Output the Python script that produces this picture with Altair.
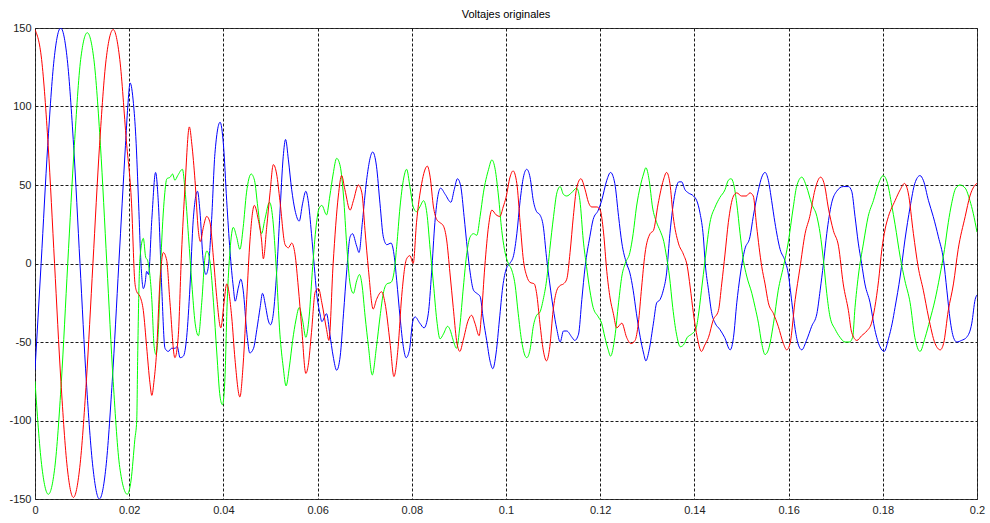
import altair as alt
import pandas as pd

# time in milliseconds, voltage values
red_t = [0, 1.4, 2.8, 4.15, 5.5, 6.85, 8.15, 9.5, 10.9, 12.3, 13.7, 15.1, 16.6, 18.0, 19.4, 20.5, 21.2, 21.6, 22.3, 23.0,
         23.7, 24.4, 24.8, 25.3, 25.8, 26.5, 27.25, 27.96, 28.66, 29.7, 30.4, 31.1, 31.85, 32.77, 33.3, 33.97, 34.68, 35.1, 35.74, 36.45,
         37.16, 37.87, 38.57, 39.45, 40.1, 40.7, 41.76, 42.46, 43.5, 44.2, 44.94, 45.65, 46.57, 47.4, 48.1, 48.48, 49.19, 49.9, 50.6, 51.3,
         52.0, 53.1, 53.8, 54.5, 55.2, 55.9, 56.6, 57.5, 58.0, 58.7, 59.5, 60.2, 60.9, 61.9, 62.4, 63.3, 64.4, 65.1, 65.8, 66.9,
         67.6, 68.65, 69.4, 70.07, 70.8, 71.8, 72.5, 73.6, 74.3, 75.4, 76.2, 77.1, 77.85, 78.9, 79.6, 80.3, 81.0, 82.1, 83.3, 83.9,
         84.6, 85.3, 86.0, 86.7, 87.4, 88.1, 88.8, 89.5, 90.2, 90.9, 92.0, 92.7, 93.4, 94.3, 94.8, 95.5, 96.3, 97.0, 97.9, 98.7,
         99.4, 100.0, 100.85, 101.5, 102.3, 103.0, 103.7, 104.4, 105.1, 106.0, 106.5, 107.2, 107.9, 108.6, 109.3, 110.0, 110.8, 111.5, 112.2, 112.9,
         113.6, 114.3, 115.0, 115.9, 116.8, 117.5, 118.2, 119.3, 120.0, 120.7, 121.4, 122.1, 122.8, 123.5, 124.6, 125.6, 126.5, 127.4, 128.1, 128.8,
         129.5, 130.6, 131.3, 132.3, 133.4, 134.1, 134.8, 135.5, 136.6, 137.65, 138.5, 139.1, 139.8, 140.6, 141.5, 142.2, 143.0, 144.0, 145.1, 145.8,
         146.5, 147.2, 148.3, 149.0, 150.0, 151.0, 151.8, 152.5, 153.2, 154.3, 155.0, 155.7, 156.8, 157.8, 158.9, 159.6, 160.3, 161.4, 162.4, 163.5,
         164.5, 165.6, 166.8, 167.7, 168.4, 169.5, 170.6, 171.6, 172.7, 173.4, 174.5, 175.5, 176.6, 177.6, 178.3, 179.1, 179.8, 180.5, 181.2, 182.6,
         183.7, 184.6, 185.4, 186.5, 187.5, 188.6, 189.7, 191.1, 192.2, 192.9, 193.9, 195.0, 196.0, 197.5, 198.5, 199.6, 200.0]
red_v = [149, 130, 75, 0, -75, -130, -149, -130, -75, 0, 75, 130, 149, 130, 78, 38, -12, -18, -21, -30,
         -53, -76, -84, -74, -57, -13, 7, 2, -25, -60, -47, 6, 49, 87, 76, 53, 21, 14, 23, 30,
         26, 4, -21, -41, -26, -13, -34, -61, -85, -64, -23, 15, 37, 28, 15, 3, 23, 45, 63, 57,
         40, 12, 10, 13, 6, -15, -40, -70, -65, -44, -18, -16, -25, -42, -49, 0, 43, 56, 47, 34,
         40, 50, 45, 21, -4, -29, -23, -18, -25, -51, -72, -53, -21, 3, 5, 0, 26, 51, 62, 55,
         36, 28, 26, 24, 15, -6, -28, -49, -56, -49, -36, -33, -38, -46, -32, -2, 24, 34, 31, 30,
         36, 42, 55, 59, 51, 26, 2, -8, -12, -13, -19, -38, -55, -62, -53, -30, -17, -14, -13, -10,
         7, 30, 48, 54, 47, 39, 36, 36, 34, 20, -5, -22, -32, -41, -38, -47, -51, -49, -38, -15,
         6, 19, 21, 38, 53, 58, 51, 30, 13, 6, -2, -15, -32, -47, -56, -52, -47, -36, -30, -13,
         6, 26, 43, 45, 43, 43, 45, 43, 24, -2, -13, -25, -32, -40, -51, -55, -51, -23, -3, 19,
         30, 47, 55, 49, 36, 21, 11, -13, -30, -44, -49, -46, -43, -38, -28, -11, 9, 22, 30, 40,
         47, 51, 45, 19, -2, -17, -34, -51, -55, -51, -30, -13, 9, 30, 43, 50, 51]

blue_t = [0, 1.3, 2.7, 4.05, 5.45, 6.85, 8.2, 9.55, 10.9, 12.3, 13.66, 15.05, 16.4, 17.8, 19.2, 19.7, 20.2, 20.9, 21.4, 22.0,
          22.5, 23.0, 23.4, 23.7, 24.1, 24.8, 25.6, 26.2, 26.9, 27.6, 28.3, 29.0, 29.7, 30.2, 30.8, 31.5, 32.2, 32.9, 33.6, 34.5,
          35.0, 35.7, 36.3, 36.8, 37.5, 38.2, 39.3, 40.0, 40.7, 41.4, 42.1, 42.5, 43.2, 43.7, 44.2, 45.0, 45.6, 46.4, 47.1, 47.8,
          48.3, 49.0, 49.5, 50.0, 50.6, 51.3, 52.0, 52.7, 53.2, 53.8, 54.5, 55.2, 56.1, 56.8, 57.5, 58.0, 58.7, 59.3, 59.8, 60.5,
          60.9, 61.9, 62.6, 63.3, 64.05, 64.8, 65.5, 66.2, 66.9, 67.4, 68.3, 68.8, 69.5, 70.4, 71.7, 72.5, 73.25, 73.95, 74.7, 75.6,
          76.3, 76.8, 77.5, 78.2, 78.8, 79.5, 80.2, 80.7, 81.7, 82.6, 83.5, 84.2, 84.9, 85.6, 86.1, 87.1, 88.3, 89.0, 89.7, 90.4,
          91.1, 91.8, 92.4, 93.1, 93.8, 94.5, 95.2, 95.9, 96.6, 97.2, 97.9, 98.6, 99.3, 100.1, 100.8, 101.6, 102.3, 103.0, 103.7, 104.4,
          105.1, 105.8, 106.5, 107.2, 107.9, 108.6, 109.3, 110.0, 110.8, 111.5, 112.2, 112.9, 114.0, 114.6, 115.4, 116.1, 116.8, 117.8, 118.5, 119.6,
          120.3, 121.4, 122.2, 123.1, 123.9, 124.6, 125.6, 126.3, 127.0, 127.7, 128.5, 129.2, 129.7, 130.4, 131.3, 132.0, 132.7, 133.4, 134.1, 134.8,
          135.9, 136.7, 137.3, 138.0, 138.7, 139.8, 140.5, 141.2, 141.9, 142.3, 143.0, 143.7, 144.4, 145.4, 146.4, 147.6, 148.3, 149.0, 149.7, 150.7,
          151.8, 152.5, 153.6, 154.3, 155.0, 155.7, 156.4, 157.1, 158.2, 159.2, 159.9, 160.7, 161.4, 162.1, 162.8, 163.8, 164.9, 166.0, 166.7, 167.4,
          168.1, 169.1, 170.2, 171.6, 172.7, 173.4, 174.1, 174.8, 175.5, 176.2, 177.3, 178.3, 179.4, 180.3, 181.2, 182.0, 182.6, 183.7, 184.7, 185.8,
          186.8, 187.9, 188.6, 189.7, 190.7, 191.8, 192.9, 193.6, 194.3, 195.0, 195.7, 196.7, 197.8, 198.9, 199.6, 200.0]
blue_v = [-68, 0, 75, 130, 150, 130, 75, 0, -75, -130, -150, -130, -75, 0, 75, 100, 115, 102, 81, 38,
          0, -16, -12, -5, -7, 28, 58, 38, -15, -54, -56, -54, -54, -53, -60, -59, -47, -15, 28, 46,
          34, 2, -7, -2, 28, 70, 90, 76, 40, 8, -15, -24, -15, -10, -17, -45, -57, -54, -42, -28,
          -19, -28, -36, -39, -32, -6, 32, 68, 79, 66, 47, 34, 27, 38, 46, 40, 19, -2, -19, -32,
          -37, -32, -45, -59, -68, -59, -32, -4, 17, 19, 11, 7, 26, 53, 71, 62, 38, 17, 12, 13,
          4, -11, -34, -53, -60, -55, -37, -34, -38, -41, -32, -6, 26, 44, 48, 44, 39, 47, 54, 49,
          30, 9, -6, -17, -19, -21, -36, -49, -62, -67, -57, -36, -15, -3, 0, 5, 19, 40, 55, 60,
          55, 40, 33, 31, 24, 4, -13, -28, -42, -50, -43, -43, -47, -49, -45, -23, -2, 17, 28, 34,
          40, 53, 58, 51, 30, 13, 0, -6, -17, -32, -47, -57, -62, -55, -38, -25, -23, -17, -6, 19,
          45, 52, 52, 47, 45, 43, 40, 32, 17, 0, -17, -32, -38, -42, -47, -55, -47, -25, -8, 9,
          17, 30, 47, 55, 58, 53, 40, 26, 9, 2, -6, -25, -42, -52, -55, -49, -40, -32, -17, 0,
          19, 38, 46, 49, 49, 46, 30, 13, 0, -13, -25, -42, -53, -56, -48, -38, -28, -8, 15, 36,
          51, 56, 53, 40, 30, 17, 2, -17, -36, -47, -50, -49, -47, -38, -23, -20]

green_t = [0, 1.4, 2.83, 4.2, 5.6, 6.95, 8.35, 9.7, 11.1, 12.5, 13.9, 15.25, 16.6, 18.0, 19.6, 20.4, 21.2, 21.6, 21.8, 22.0,
           22.3, 23.0, 23.5, 23.9, 24.8, 25.3, 25.7, 26.2, 26.75, 27.5, 28.0, 28.7, 29.2, 29.7, 30.3, 31.3, 31.85, 32.6, 33.3, 34.0,
           34.7, 35.4, 36.1, 36.5, 37.2, 37.9, 38.6, 39.3, 39.8, 40.3, 40.8, 41.4, 42.1, 42.8, 43.5, 44.2, 44.9, 45.9, 46.6, 47.3,
           48.1, 48.8, 49.8, 50.5, 51.2, 52.0, 52.7, 53.3, 54.0, 54.7, 55.4, 56.1, 56.8, 57.5, 58.2, 58.95, 59.7, 60.3, 60.9, 61.9,
           62.6, 63.3, 64.05, 64.8, 65.5, 66.2, 66.9, 67.6, 68.3, 68.9, 69.4, 70.1, 70.8, 71.6, 72.5, 73.25, 73.95, 74.7, 75.6, 76.3,
           76.8, 77.5, 78.2, 78.9, 79.6, 80.3, 81.0, 81.7, 82.5, 83.2, 83.9, 84.6, 85.3, 86.0, 86.7, 87.6, 88.1, 88.8, 89.5, 90.2,
           90.95, 91.7, 92.4, 93.1, 93.8, 94.5, 95.2, 96.3, 97.0, 97.7, 98.4, 99.1, 99.8, 100.5, 101.2, 101.9, 102.6, 103.3, 104.4, 105.1,
           105.8, 106.5, 107.2, 107.9, 108.6, 109.3, 110.1, 110.8, 111.5, 112.2, 112.9, 113.9, 115.0, 115.7, 116.4, 117.1, 117.8, 118.5, 119.6, 120.3,
           121.0, 121.7, 122.2, 123.1, 123.9, 124.6, 125.3, 126.3, 127.0, 127.7, 128.5, 129.2, 129.7, 130.4, 131.1, 132.0, 132.7, 133.5, 134.1, 134.7,
           135.4, 136.2, 137.0, 137.65, 138.5, 139.4, 140.3, 140.8, 141.5, 142.3, 143.3, 144.4, 145.4, 146.5, 147.2, 147.8, 148.3, 149.0, 149.7, 150.4,
           151.1, 152.2, 152.9, 153.6, 154.3, 155.0, 155.7, 156.8, 157.8, 158.9, 159.9, 161.0, 161.7, 162.8, 163.8, 164.9, 166.0, 166.7, 167.4, 168.1,
           168.8, 169.9, 170.9, 172.0, 172.9, 173.6, 174.1, 174.8, 175.9, 176.9, 178.0, 179.1, 180.1, 181.0, 181.9, 182.6, 183.7, 184.7, 185.8, 186.8,
           187.9, 189.0, 190.0, 191.1, 192.1, 193.1, 193.9, 194.6, 195.5, 196.4, 197.5, 198.5, 199.2, 200.0]
green_v = [-75, -128, -147, -130, -75, 0, 75, 130, 147, 130, 75, 0, -75, -130, -147, -138, -112, -100, -60, -25,
           4, 16, 4, 2, -23, -53, -58, -42, 4, 43, 54, 55, 57, 53, 56, 60, 47, 17, -13, -38,
           -46, -25, 4, 8, 0, -25, -57, -85, -90, -75, -25, 8, 23, 17, 9, 23, 45, 57, 53, 36,
           19, 28, 39, 28, -2, -45, -66, -78, -66, -49, -36, -28, -36, -47, -34, -2, 24, 35, 37, 31,
           43, 57, 67, 62, 43, 11, -13, -19, -11, -7, -13, -34, -53, -71, -53, -34, -19, -13, -12, -4,
           11, 36, 53, 60, 49, 36, 33, 36, 40, 32, 9, -13, -36, -48, -45, -40, -42, -49, -54, -40,
           -15, 7, 17, 19, 18, 30, 45, 60, 66, 60, 43, 21, 7, 0, -4, -13, -32, -49, -60, -55,
           -40, -33, -31, -23, -11, 9, 30, 45, 49, 44, 43, 45, 48, 40, 15, -2, -17, -28, -34, -38,
           -47, -55, -59, -47, -25, -8, 0, 7, 19, 36, 49, 57, 61, 53, 36, 26, 21, 14, 4, -8,
           -28, -45, -53, -52, -47, -45, -42, -34, -17, 3, 26, 36, 42, 47, 53, 54, 51, 38, 19, 2,
           -8, -19, -28, -38, -51, -58, -55, -38, -17, -2, 13, 36, 49, 55, 49, 38, 30, 19, 2, -19,
           -34, -42, -47, -50, -50, -47, -28, -8, 13, 30, 40, 51, 56, 51, 37, 25, 4, -11, -25, -47,
           -56, -47, -36, -23, -8, 9, 26, 38, 48, 50, 48, 40, 32, 20]

x_ticks = [0, 0.02, 0.04, 0.06, 0.08, 0.1, 0.12, 0.14, 0.16, 0.18, 0.2]
y_ticks = [-150, -100, -50, 0, 50, 100, 150]


def frame(ts, vs):
    return pd.DataFrame({"t": [x / 1000.0 for x in ts], "v": vs})


FONT = "Liberation Sans"

x_enc = alt.X(
    "t:Q",
    scale=alt.Scale(domain=[0, 0.2], nice=False, zero=False),
    axis=alt.Axis(values=x_ticks, labelExpr="toString(datum.value)", title=None, grid=True,
                  gridColor="#1a1a1a", gridDash=[3, 2], gridWidth=1,
                  domain=False, ticks=False, labelFont=FONT, labelFontSize=11,
                  labelColor="#222222", labelPadding=5, labelFlush=False),
)
y_enc = alt.Y(
    "v:Q",
    scale=alt.Scale(domain=[-150, 150], nice=False, zero=False),
    axis=alt.Axis(values=y_ticks, labelExpr="toString(datum.value)", title=None, grid=True,
                  gridColor="#1a1a1a", gridDash=[3, 2], gridWidth=1,
                  domain=False, ticks=False, labelFont=FONT, labelFontSize=11,
                  labelColor="#222222", labelPadding=4, labelFlush=False),
)

layers = []
for ts, vs, col in [(blue_t, blue_v, "#0000ff"), (green_t, green_v, "#00ff00"), (red_t, red_v, "#ff0000")]:
    layers.append(
        alt.Chart(frame(ts, vs))
        .mark_line(strokeWidth=1, interpolate="monotone", clip=True, color=col)
        .encode(x=x_enc, y=y_enc)
    )

chart = (
    alt.layer(*layers)
    .properties(
        width=942,
        height=471,
        title=alt.TitleParams("Voltajes originales", font=FONT, fontSize=11,
                              fontWeight="normal", color="#000000", anchor="middle", offset=2),
        padding={"left": 35, "top": 28, "right": 13, "bottom": 24},
        autosize="none",
        background="white",
    )
    .configure_view(stroke="#404040", strokeWidth=1)
)

chart.save("out.html", embed_options={"renderer": "svg", "actions": False})
